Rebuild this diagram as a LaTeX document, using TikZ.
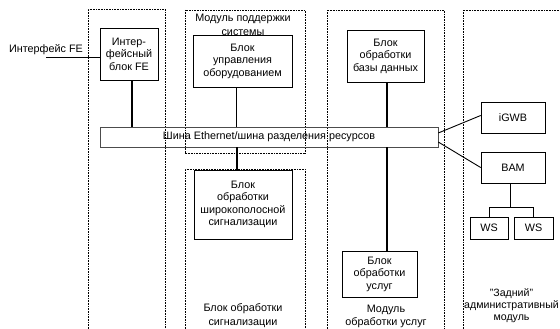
\documentclass[tikz,border=0pt]{standalone}
\usepackage{fontspec}
\setmainfont{Liberation Sans}
\begin{document}
\begin{tikzpicture}[x=1pt,y=-1pt,
  txt/.style={font=\fontsize{10.8}{12.5}\selectfont, align=center, inner sep=0pt},
  blk/.style={txt, draw, line width=0.7pt},
  bus/.style={txt, draw=black!70, line width=0.5pt},
  lnk/.style={line width=1.6pt},
  thin link/.style={line width=0.9pt},
  module/.style={line width=0.7pt, dash pattern=on 0.7pt off 0.9pt}]
\useasboundingbox (0,0) rectangle (560,329);

% dotted module outlines
\draw[module] (88,329) -- (88,9) -- (165,9) -- (165,329);
\draw[module] (185,10) rectangle (305,153);
\draw[module] (327,329) -- (327,10) -- (444,10) -- (444,329);
\draw[module] (463,329) -- (463,10) -- (560,10);
\draw[module] (185,329) -- (185,169) -- (305,169) -- (305,329);

% module captions
\node[txt, font=\fontsize{10.8}{14}\selectfont] (capsup) at (243,24.5) {Модуль поддержки\\системы};
\node[txt, font=\fontsize{10.8}{14}\selectfont] (capsig) at (243,316) {Блок обработки\\сигнализации};
\node[txt, font=\fontsize{10.8}{13.5}\selectfont] (capsvc) at (386,316.5) {Модуль\\обработки услуг};
\node[txt, font=\fontsize{10.6}{12}\selectfont] (capadm) at (511.5,306) {"Задний"\\административный\\модуль};

% blocks
\node[blk, minimum width=58pt, minimum height=52pt] (fe) at (129,54) {Интер-\\фейсный\\блок FE};
\node[blk, minimum width=99pt, minimum height=52pt] (eq) at (242.5,61) {Блок\\управления\\оборудованием};
\node[blk, minimum width=77pt, minimum height=52pt] (db) at (385.5,56) {Блок\\обработки\\базы данных};
\node[bus, minimum width=338pt, minimum height=20pt] (bus) at (269,137) {Шина Ethernet/шина разделения ресурсов};
\node[blk, minimum width=64pt, minimum height=31pt] (igwb) at (513,117.5) {iGWB};
\node[blk, minimum width=64pt, minimum height=31pt] (bam) at (513,167.5) {BAM};
\node[blk, minimum width=38pt, minimum height=22pt] (ws1) at (489,228) {WS};
\node[blk, minimum width=39pt, minimum height=22pt] (ws2) at (533.5,228) {WS};
\node[blk, minimum width=98pt, minimum height=69pt] (bb) at (243,204.5) {Блок\\обработки\\широкополосной\\сигнализации};
\node[blk, minimum width=75pt, minimum height=46pt] (svc) at (379.5,274) {Блок\\обработки\\услуг};

% external interface
\node[txt] (ifl) at (46,50) {Интерфейс FE};
\coordinate (ifs) at (46,57);
\draw[thin link] (ifs) -- (fe.west |- ifs);

% links to the bus
\draw[lnk] ([xshift=3pt]fe.south) -- ([xshift=3pt]fe.south |- bus.north);
\draw[lnk] ([xshift=-6pt]eq.south) -- ([xshift=-6pt]eq.south |- bus.north);
\draw[lnk] ([xshift=1.5pt]db.south) -- ([xshift=1.5pt]db.south |- bus.north);
\draw[lnk] ([xshift=-6pt]bb.north) -- ([xshift=-6pt]bb.north |- bus.south);
\draw[lnk] ([xshift=7.5pt]svc.north) -- ([xshift=7.5pt]svc.north |- bus.south);

% back-end links
\draw[thin link] ([yshift=4pt]bus.east) -- ([yshift=2pt]igwb.west);
\draw[thin link] ([yshift=-5pt]bus.east) -- (bam.west);
\draw[thin link] ([xshift=-3pt]bam.south) -- ++(0,24) coordinate (split);
\draw[thin link] (ws1.north) |- (split) -| (ws2.north);
\end{tikzpicture}
\end{document}
